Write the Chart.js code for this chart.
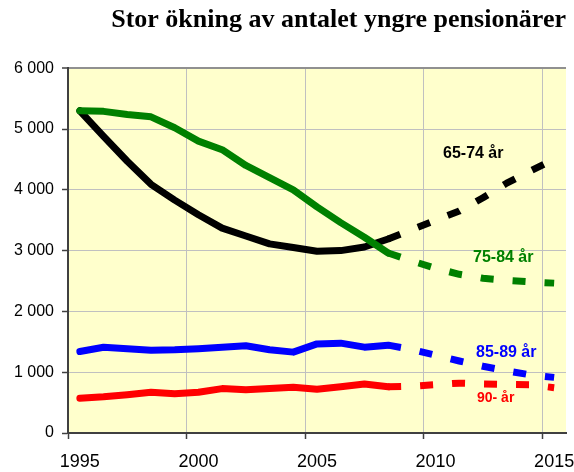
<!DOCTYPE html>
<html>
<head>
<meta charset="utf-8">
<script src="https://cdn.jsdelivr.net/npm/chart.js@4.4.1/dist/chart.umd.min.js"></script>
<style>
  html, body { margin: 0; padding: 0; background: #ffffff; }
  #wrap { width: 574px; height: 472px; }
</style>
</head>
<body>
<div id="wrap"><canvas id="c" width="574" height="472"></canvas></div>
<script>
// ---- data ----
const title = 'Stor ökning av antalet yngre pensionärer';
const years = [1995,1996,1997,1998,1999,2000,2001,2002,2003,2004,2005,2006,2007,2008,2009,2010,2011,2012,2013,2014,2015];
const lastObservedYear = 2008; // solid up to here, projection (dashed) after
const seriesNames = ['65-74 år', '75-84 år', '85-89 år', '90- år'];
const age65_74 = [5300,4880,4470,4090,3830,3590,3370,3240,3110,3050,2990,3000,3060,3190,3345,3500,3650,3870,4110,4310,4500];
const age75_84 = [5300,5290,5240,5200,5020,4800,4660,4400,4200,4000,3720,3460,3220,2960,2830,2710,2610,2545,2510,2485,2465];
const age85_89 = [1340,1410,1385,1360,1368,1385,1410,1435,1370,1330,1465,1478,1412,1445,1374,1279,1184,1098,1023,956,915];
const age90up  = [570,595,630,670,645,670,730,710,730,753,720,760,805,760,770,795,820,808,800,795,745];
const yTicks = [0,1000,2000,3000,4000,5000,6000];

// ---- styles ----
const colors = ['#000000', '#008000', '#0000FF', '#FF0000'];
const drawOrder = [1, 0, 2, 3];
const dashPattern = [13, 19];
const splitIndex = years.indexOf(lastObservedYear);
const labelStyle = [
  { x: 443, y: 154, size: 16 },
  { x: 473, y: 258, size: 16 },
  { x: 476, y: 353, size: 16 },
  { x: 477, y: 398, size: 14 }
];
const sansFont = 'Arial, "Liberation Sans", sans-serif';
const serifFont = '"Times New Roman", "Liberation Serif", serif';

const allSeries = [age65_74, age75_84, age85_89, age90up];
const datasets = allSeries.map((vals, i) => ({
  label: seriesNames[i],
  data: vals,
  borderColor: colors[i],
  backgroundColor: colors[i],
  borderWidth: 7,
  pointRadius: 0,
  pointHoverRadius: 0,
  tension: 0,
  fill: false,
  borderJoinStyle: 'round',
  borderCapStyle: 'round',
  order: drawOrder[i],
  segment: {
    borderDash: ctx => ctx.p0DataIndex >= splitIndex ? dashPattern : undefined,
    borderCapStyle: ctx => ctx.p0DataIndex >= splitIndex ? 'butt' : 'round'
  }
}));

const plotBg = {
  id: 'plotBg',
  beforeDraw(chart) {
    const { ctx, chartArea: a } = chart;
    ctx.save();
    ctx.fillStyle = '#FFFFCC';
    ctx.fillRect(a.left, a.top, a.right - a.left, a.bottom - a.top);
    ctx.restore();
  }
};

const seriesLabels = {
  id: 'seriesLabels',
  afterDatasetsDraw(chart) {
    const { ctx } = chart;
    ctx.save();
    ctx.textAlign = 'left';
    ctx.textBaseline = 'middle';
    seriesNames.forEach((name, i) => {
      const s = labelStyle[i];
      ctx.font = 'bold ' + s.size + 'px ' + sansFont;
      ctx.fillStyle = colors[i];
      ctx.fillText(name, s.x, s.y);
    });
    ctx.restore();
  }
};

function fmt(v) {
  return String(v).replace(/\B(?=(\d{3})+(?!\d))/g, ' ');
}

new Chart(document.getElementById('c'), {
  type: 'line',
  data: { labels: years.map(String), datasets },
  options: {
    responsive: false,
    animation: false,
    devicePixelRatio: 1,
    layout: { padding: { left: 0, right: 8, top: 0, bottom: 0 } },
    plugins: {
      legend: { display: false },
      tooltip: { enabled: false },
      title: {
        display: true,
        text: title,
        align: 'end',
        color: '#000000',
        font: { family: serifFont, size: 26, weight: 'bold', lineHeight: 1.2 },
        padding: { top: 5, bottom: 32 }
      }
    },
    scales: {
      x: {
        type: 'category',
        offset: true,
        afterFit(s) { s.height = 39; s.paddingLeft = 0; s.paddingRight = 0; },
        border: { display: true, color: '#404040', width: 2 },
        grid: {
          offset: true,
          drawOnChartArea: true,
          tickLength: 6,
          color: ctx => {
            const i = ctx.index;
            if (i === years.length) return '#909090';
            return (i > 0 && i % 5 === 0) ? '#C0C0C0' : 'rgba(0,0,0,0)';
          },
          lineWidth: ctx => ctx.index === years.length ? 2 : 1,
          tickColor: ctx => (ctx.index < years.length && ctx.index % 5 === 0) ? '#404040' : 'rgba(0,0,0,0)',
          tickWidth: 1.5
        },
        ticks: {
          autoSkip: false,
          maxRotation: 0,
          minRotation: 0,
          padding: 12,
          color: '#000000',
          font: { family: sansFont, size: 18 },
          callback: (v, i) => (years[i] % 5 === 0 ? String(years[i]) : '')
        }
      },
      y: {
        min: 0,
        max: 6000,
        afterFit(s) { s.width = 68; },
        afterBuildTicks(s) { s.ticks = yTicks.map(v => ({ value: v })); },
        border: { display: true, color: '#404040', width: 2 },
        grid: {
          tickLength: 6,
          color: ctx => {
            const v = ctx.tick ? ctx.tick.value : 0;
            if (v === 6000) return '#909090';
            return v === 0 ? 'rgba(0,0,0,0)' : '#C0C0C0';
          },
          lineWidth: ctx => (ctx.tick && ctx.tick.value === 6000) ? 2 : 1,
          tickColor: '#404040',
          tickWidth: 1.5
        },
        ticks: {
          padding: 8,
          color: '#000000',
          font: { family: sansFont, size: 16 },
          callback: v => fmt(v)
        }
      }
    }
  },
  plugins: [plotBg, seriesLabels]
});
</script>
</body>
</html>
